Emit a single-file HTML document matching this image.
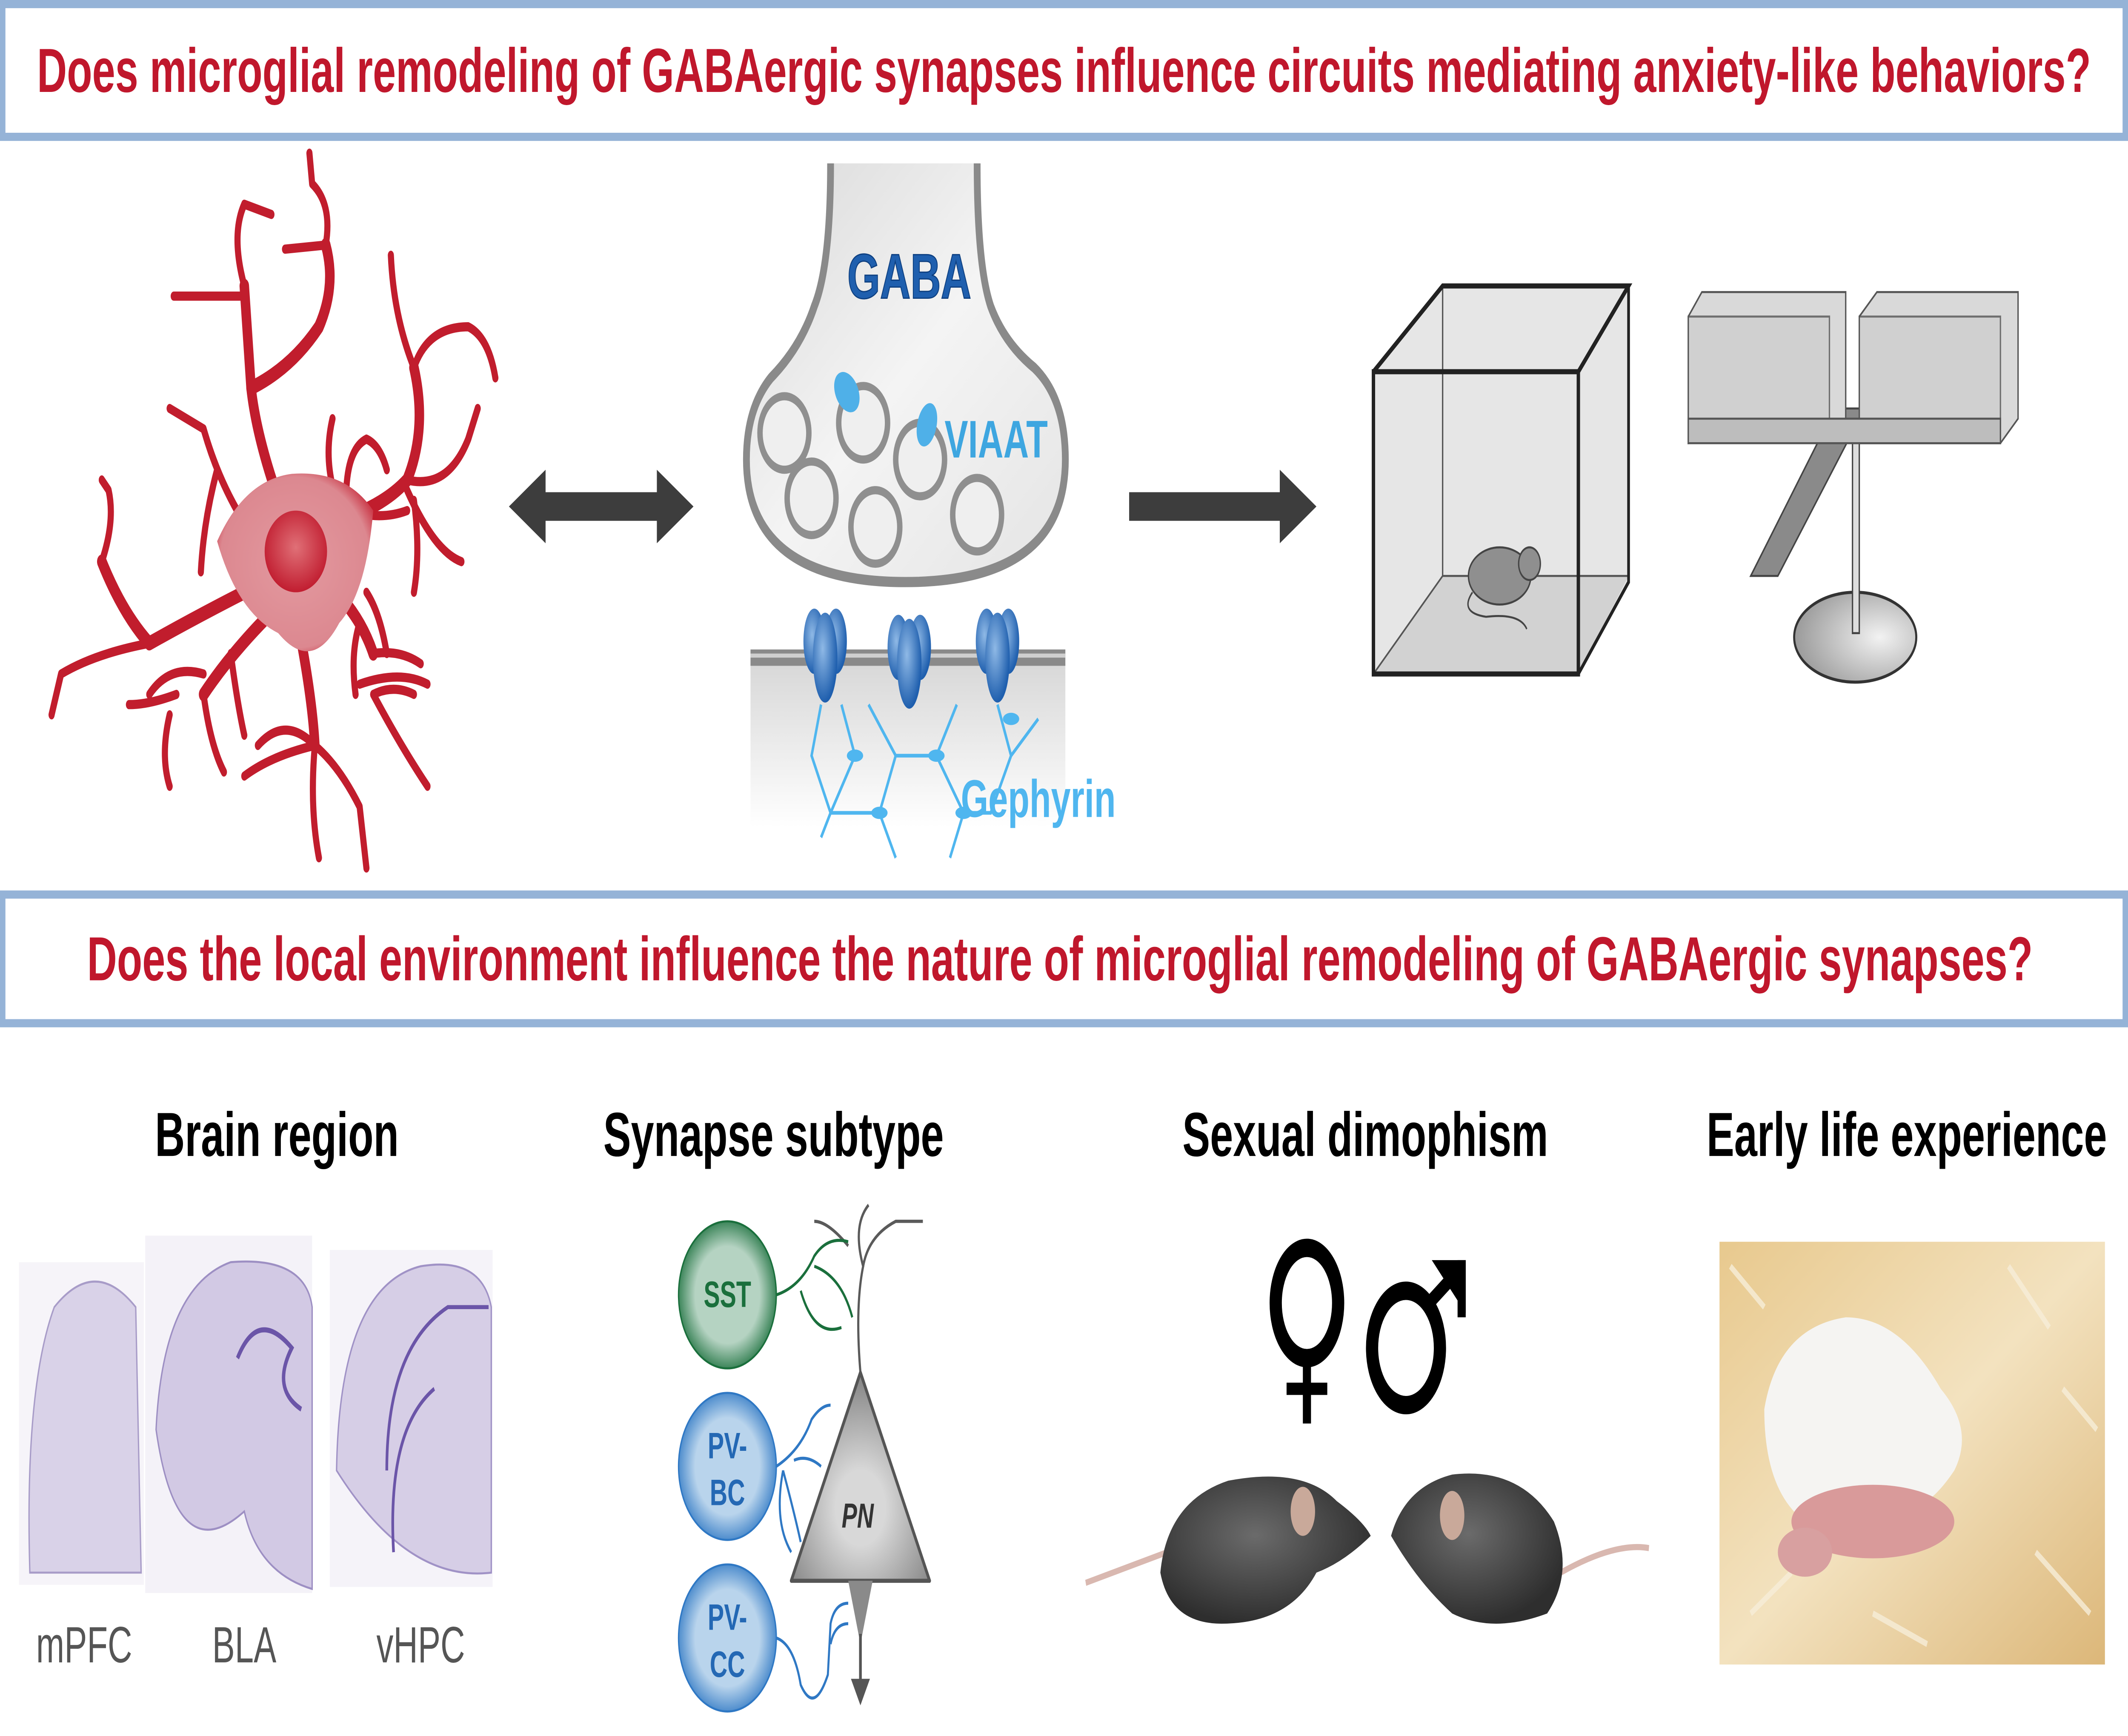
<!DOCTYPE html>
<html><head><meta charset="utf-8">
<style>
html,body{margin:0;padding:0;background:#fff;width:100%;height:100%;overflow:hidden;}
svg{display:block;position:absolute;left:0;top:0;width:100vw;height:100vh;}
text{font-family:"Liberation Sans",sans-serif;}
</style></head>
<body>
<svg viewBox="0 0 1568 850" preserveAspectRatio="none" xmlns="http://www.w3.org/2000/svg">
<defs>
<radialGradient id="cellg" cx="50%" cy="50%" r="60%"><stop offset="0" stop-color="#e39aa0"/><stop offset="0.8" stop-color="#dc8890"/><stop offset="1" stop-color="#c62637"/></radialGradient>
<radialGradient id="nucg" cx="50%" cy="45%" r="55%"><stop offset="0" stop-color="#e07077"/><stop offset="1" stop-color="#c11d30"/></radialGradient>
<linearGradient id="bout" x1="0" y1="0" x2="1" y2="1"><stop offset="0" stop-color="#d9d9d9"/><stop offset="0.5" stop-color="#f4f4f4"/><stop offset="1" stop-color="#e4e4e4"/></linearGradient>
<radialGradient id="sstg" r="55%"><stop offset="0.6" stop-color="#b5d3c2"/><stop offset="1" stop-color="#1a6f3c"/></radialGradient>
<radialGradient id="pvg" r="55%"><stop offset="0.6" stop-color="#b9d4ec"/><stop offset="1" stop-color="#2f78c4"/></radialGradient>
<radialGradient id="png" cx="50%" cy="65%" r="60%"><stop offset="0.3" stop-color="#d8d8d8"/><stop offset="1" stop-color="#8a8a8a"/></radialGradient>
<radialGradient id="discg" cx="70%" cy="50%" r="70%"><stop offset="0" stop-color="#f2f2f2"/><stop offset="1" stop-color="#9a9a9a"/></radialGradient>
<linearGradient id="postg" x1="0" y1="0" x2="0" y2="1"><stop offset="0" stop-color="#d8d8d8"/><stop offset="1" stop-color="#ffffff"/></linearGradient>
<radialGradient id="rec" cx="40%" cy="40%" r="60%"><stop offset="0" stop-color="#8fb9e6"/><stop offset="1" stop-color="#1f5fae"/></radialGradient>
<linearGradient id="wood" x1="0" y1="0" x2="1" y2="1"><stop offset="0" stop-color="#e8c98e"/><stop offset="0.5" stop-color="#f3e2bf"/><stop offset="1" stop-color="#dcb779"/></linearGradient>
<radialGradient id="mouseg" cx="45%" cy="40%" r="60%"><stop offset="0" stop-color="#6b6b6b"/><stop offset="1" stop-color="#2e2e2e"/></radialGradient>
</defs>

<rect x="2" y="2" width="1564" height="65" fill="#fff" stroke="#95b3d7" stroke-width="4"/>
<text x="784" y="45" text-anchor="middle" font-size="30.5" font-weight="bold" fill="#c0172c">Does microglial remodeling of GABAergic synapses influence circuits mediating anxiety-like behaviors?</text>

<!-- microglia -->
<g stroke="#c11d2d" stroke-linecap="round" stroke-linejoin="round" fill="none">
<g stroke-width="7">
<path d="M215 262 Q190 220 185 190 Q182 160 180 140"/>
<path d="M185 190 Q215 180 235 160 Q248 140 240 120"/>
<path d="M235 258 Q280 250 300 235 Q315 210 305 180"/>
<path d="M195 285 Q150 300 110 315 Q90 300 75 275"/>
<path d="M218 300 Q230 340 232 365"/>
<path d="M240 285 Q265 300 275 320"/>
<path d="M200 300 Q170 320 150 340"/>
</g>
<g stroke-width="4.5">
<path d="M180 140 Q170 115 180 100 L200 105"/>
<path d="M180 145 L128 145"/>
<path d="M240 120 Q245 100 230 90 L228 75"/>
<path d="M240 120 L210 122"/>
<path d="M305 180 Q315 160 345 160 Q360 165 365 185"/>
<path d="M305 180 Q290 155 288 125"/>
<path d="M300 235 Q330 240 345 215 L352 200"/>
<path d="M248 245 Q238 225 245 205"/>
<path d="M255 245 Q255 220 270 215 Q280 218 285 230"/>
<path d="M258 250 Q280 255 300 250"/>
<path d="M300 240 Q320 270 340 275"/>
<path d="M305 245 Q310 270 305 290"/>
<path d="M270 290 Q280 300 285 320"/>
<path d="M275 320 Q295 318 310 325"/>
<path d="M265 305 Q258 320 262 340"/>
<path d="M265 335 Q295 328 315 335"/>
<path d="M232 365 Q250 375 265 395 L270 425"/>
<path d="M232 365 Q210 350 190 365"/>
<path d="M232 365 Q200 370 180 380"/>
<path d="M232 365 Q228 395 235 420"/>
<path d="M275 340 Q295 365 315 385"/>
<path d="M275 340 Q290 335 305 340"/>
<path d="M110 315 Q70 320 45 330 L38 350"/>
<path d="M75 275 Q85 255 80 240 L75 235"/>
<path d="M150 330 Q125 325 110 340"/>
<path d="M150 340 Q155 365 165 378"/>
<path d="M130 340 Q110 345 95 345"/>
<path d="M125 350 Q118 370 125 385"/>
<path d="M170 320 Q175 345 180 360"/>
<path d="M195 270 Q165 245 150 210 L125 200"/>
<path d="M160 230 Q150 255 148 280"/>
</g>
</g>
<path d="M160 265 Q180 235 215 232 Q255 230 275 250 Q270 290 250 305 Q230 330 205 310 Q175 300 160 265 Z" fill="url(#cellg)"/>
<ellipse cx="218" cy="270" rx="23" ry="20" fill="url(#nucg)"/>

<path d="M375 248 L402 230 L402 241 L484 241 L484 230 L511 248 L484 266 L484 255 L402 255 L402 266 Z" fill="#3d3d3d"/>

<!-- synapse bouton -->
<path d="M612 80 Q612 130 600 150 Q590 170 568 185 Q550 200 550 225 Q550 285 667 285 Q785 285 785 225 Q785 195 762 180 Q740 168 730 150 Q720 130 720 80" fill="url(#bout)" stroke="#8a8a8a" stroke-width="5"/>
<text x="670" y="146" text-anchor="middle" font-size="31" font-weight="bold" fill="#1f5fae" stroke="#0d3f80" stroke-width="0.6">GABA</text>
<g fill="#efefef" stroke="#8f8f8f" stroke-width="4">
<circle cx="578" cy="212" r="18"/><circle cx="636" cy="207" r="18"/><circle cx="678" cy="225" r="18"/>
<circle cx="598" cy="244" r="18"/><circle cx="645" cy="258" r="18"/><circle cx="720" cy="252" r="18"/>
</g>
<ellipse cx="624" cy="192" rx="8" ry="11" fill="#4fb0e8" transform="rotate(-40 624 192)"/>
<ellipse cx="683" cy="208" rx="7" ry="11" fill="#4fb0e8" transform="rotate(20 683 208)"/>
<text x="696" y="224" font-size="26" font-weight="bold" fill="#3ea6e0">VIAAT</text>

<rect x="553" y="325" width="232" height="80" fill="url(#postg)"/>
<rect x="553" y="318" width="232" height="8" fill="#8a8a8a"/>
<rect x="553" y="320" width="232" height="2" fill="#cfcfcf"/>
<g stroke="#4fb6ef" stroke-width="1.8" fill="none">
<path d="M605 345 L598 370 L612 398 L605 410 M612 398 L648 398 L660 370 L640 345 M660 370 L690 370 L705 345 M690 370 L710 398 L730 398 L745 370 L735 345 M710 398 L700 420 M612 398 L630 370 L620 345 M648 398 L660 420 M745 370 L765 352"/>
</g>
<g fill="#4fb6ef">
<ellipse cx="630" cy="370" rx="6" ry="3"/><ellipse cx="690" cy="370" rx="6" ry="3"/><ellipse cx="648" cy="398" rx="6" ry="3"/><ellipse cx="710" cy="398" rx="6" ry="3"/><ellipse cx="745" cy="352" rx="6" ry="3"/>
</g>
<g fill="url(#rec)">
<g transform="translate(608 322)"><ellipse cx="-8" cy="-8" rx="8" ry="16"/><ellipse cx="8" cy="-8" rx="8" ry="16"/><ellipse cx="0" cy="0" rx="9" ry="22"/></g>
<g transform="translate(670 325)"><ellipse cx="-8" cy="-8" rx="8" ry="16"/><ellipse cx="8" cy="-8" rx="8" ry="16"/><ellipse cx="0" cy="0" rx="9" ry="22"/></g>
<g transform="translate(735 322)"><ellipse cx="-8" cy="-8" rx="8" ry="16"/><ellipse cx="8" cy="-8" rx="8" ry="16"/><ellipse cx="0" cy="0" rx="9" ry="22"/></g>
</g>
<text x="708" y="400" font-size="26" font-weight="bold" fill="#4fb6ef">Gephyrin</text>

<path d="M832 241 L943 241 L943 230 L970 248 L943 266 L943 255 L832 255 Z" fill="#3d3d3d"/>

<!-- open field -->
<g stroke="#222" fill="none">
<polygon points="1012,182 1063,140 1200,140 1200,285 1163,330 1012,330" fill="#e6e6e6" stroke="none"/>
<polygon points="1012,330 1063,282 1200,282 1163,330" fill="#d2d2d2" stroke="none"/>
<line x1="1063" y1="140" x2="1063" y2="282" stroke="#555" stroke-width="1"/>
<line x1="1063" y1="282" x2="1200" y2="282" stroke="#555" stroke-width="1"/>
<line x1="1063" y1="282" x2="1012" y2="330" stroke="#555" stroke-width="1"/>
<polyline points="1012,182 1063,140 1200,140 1163,182" stroke-width="2.5"/>
<rect x="1012" y="182" width="151" height="148" stroke-width="2.5"/>
<polyline points="1200,140 1200,285 1163,330" stroke-width="2"/>
</g>
<ellipse cx="1105" cy="282" rx="23" ry="14" fill="#8f8f8f" stroke="#444" stroke-width="1"/>
<circle cx="1127" cy="276" r="8" fill="#8f8f8f" stroke="#444" stroke-width="1"/>
<path d="M1085 290 Q1075 300 1095 302 Q1120 300 1125 308" stroke="#444" fill="none" stroke-width="1"/>

<!-- EPM -->
<ellipse cx="1367" cy="312" rx="45" ry="22" fill="url(#discg)" stroke="#333" stroke-width="1.5"/>
<rect x="1365" y="210" width="5" height="100" fill="#ddd" stroke="#444" stroke-width="1"/>
<polygon points="1352,200 1374,200 1310,282 1290,282" fill="#8a8a8a" stroke="#444" stroke-width="1"/>
<polygon points="1244,155 1254,143 1360,143 1360,205 1244,217" fill="#d9d9d9" stroke="#555" stroke-width="1"/>
<polygon points="1244,155 1348,155 1348,205 1244,217" fill="#cfcfcf" stroke="#555" stroke-width="1" opacity="0.8"/>
<polygon points="1370,155 1383,143 1487,143 1487,205 1474,217 1370,217" fill="#d9d9d9" stroke="#555" stroke-width="1"/>
<rect x="1370" y="155" width="104" height="62" fill="#cfcfcf" stroke="#555" stroke-width="1" opacity="0.8"/>
<polygon points="1244,205 1474,205 1474,217 1244,217" fill="#bdbdbd" stroke="#555" stroke-width="1"/>

<rect x="2" y="438" width="1564" height="63" fill="#fff" stroke="#95b3d7" stroke-width="4"/>
<text x="781" y="480" text-anchor="middle" font-size="30.5" font-weight="bold" fill="#c0172c">Does the local environment influence the nature of microglial remodeling of GABAergic synapses?</text>

<g font-size="30.5" font-weight="bold" fill="#000" text-anchor="middle">
<text x="204" y="566">Brain region</text>
<text x="570" y="566">Synapse subtype</text>
<text x="1006" y="566">Sexual dimophism</text>
<text x="1405" y="566">Early life experience</text>
</g>

<rect x="14" y="618" width="92" height="158" fill="#f6f4f9"/>
<path d="M22 770 Q18 680 40 640 Q70 615 100 640 L104 770 Z" fill="#d9d2e8" stroke="#a89cc8" stroke-width="1"/>
<rect x="107" y="605" width="123" height="175" fill="#f4f2f8"/>
<path d="M115 700 Q120 630 170 618 Q225 615 230 640 L230 778 Q190 770 180 740 Q130 770 115 700 Z" fill="#d2c9e4" stroke="#9d8fc3" stroke-width="1"/>
<path d="M175 665 Q190 640 215 660 Q200 680 222 690" stroke="#6b55a8" stroke-width="2.5" fill="none"/>
<rect x="243" y="612" width="120" height="165" fill="#f5f3f9"/>
<path d="M248 720 Q250 630 310 620 Q355 615 362 640 L362 770 Q300 775 248 720 Z" fill="#d6cee6" stroke="#a092c6" stroke-width="1"/>
<path d="M285 720 Q285 660 330 640 L360 640 M290 760 Q285 700 320 680" stroke="#6b55a8" stroke-width="2" fill="none"/>
<g font-size="25" fill="#555" text-anchor="middle">
<text x="62" y="814">mPFC</text><text x="180" y="814">BLA</text><text x="310" y="814">vHPC</text>
</g>

<g fill="none" stroke="#5a5a5a" stroke-width="1.6">
<path d="M634 672 Q630 640 636 620 Q628 600 640 590"/>
<path d="M636 620 Q640 605 660 598 L680 598"/>
<path d="M625 610 Q610 598 600 598"/>
</g>
<g fill="none" stroke="#1a6f3c" stroke-width="1.5">
<path d="M572 634 Q590 630 600 615 Q610 605 625 608"/>
<path d="M590 632 Q600 655 620 650"/>
<path d="M600 620 Q620 625 628 645"/>
</g>
<g fill="none" stroke="#2f78c4" stroke-width="1.5">
<path d="M572 718 Q590 710 598 695 Q605 688 612 688"/>
<path d="M585 715 Q595 712 605 718"/>
<path d="M577 720 Q585 740 590 755"/>
<path d="M577 720 Q570 745 583 760"/>
<path d="M572 802 Q585 805 590 825 Q600 840 610 820 L612 795 Q615 785 625 785 M612 805 Q615 795 625 795"/>
</g>
<polygon points="634,672 685,774 583,774" fill="url(#png)" stroke="#555" stroke-width="2" stroke-linejoin="round"/>
<polygon points="625,774 643,774 634,805" fill="#8a8a8a"/>
<line x1="634" y1="800" x2="634" y2="828" stroke="#555" stroke-width="2"/>
<polygon points="627,822 641,822 634,835" fill="#555"/>
<text x="632" y="748" text-anchor="middle" font-size="17" font-weight="bold" font-style="italic" fill="#333">PN</text>
<circle cx="536" cy="634" r="36" fill="url(#sstg)" stroke="#1a6f3c" stroke-width="1"/>
<circle cx="536" cy="718" r="36" fill="url(#pvg)" stroke="#2f78c4" stroke-width="1"/>
<circle cx="536" cy="802" r="36" fill="url(#pvg)" stroke="#2f78c4" stroke-width="1"/>
<g font-size="18" font-weight="bold" text-anchor="middle">
<text x="536" y="640" fill="#1a6f3c">SST</text>
<text x="536" y="714" fill="#2468b4">PV-</text><text x="536" y="737" fill="#2468b4">BC</text>
<text x="536" y="798" fill="#2468b4">PV-</text><text x="536" y="821" fill="#2468b4">CC</text>
</g>

<ellipse cx="963" cy="638" rx="23" ry="27" fill="none" stroke="#000" stroke-width="9"/>
<line x1="963" y1="665" x2="963" y2="697" stroke="#000" stroke-width="6"/>
<line x1="948" y1="680" x2="978" y2="680" stroke="#000" stroke-width="6"/>
<ellipse cx="1036" cy="660" rx="25" ry="28" fill="none" stroke="#000" stroke-width="9"/>
<line x1="1053" y1="638" x2="1075" y2="622" stroke="#000" stroke-width="7"/>
<polygon points="1055,617 1080,617 1080,643" fill="#000"/>
<rect x="1074" y="617" width="6" height="28" fill="#000"/>

<path d="M800 775 Q840 765 860 760" stroke="#d9b8b0" stroke-width="3" fill="none"/>
<path d="M1150 770 Q1190 755 1215 758" stroke="#d9b8b0" stroke-width="3" fill="none"/>
<path d="M855 770 Q860 735 905 725 Q960 718 985 735 Q1005 745 1010 752 Q990 765 970 770 Q950 795 900 795 Q862 795 855 770 Z" fill="url(#mouseg)"/>
<ellipse cx="960" cy="740" rx="9" ry="12" fill="#c9a99a"/>
<path d="M1025 752 Q1035 728 1070 722 Q1120 718 1145 745 Q1160 770 1140 790 Q1100 800 1070 790 Q1045 775 1025 752 Z" fill="url(#mouseg)"/>
<ellipse cx="1070" cy="742" rx="9" ry="12" fill="#c9a99a"/>

<rect x="1267" y="608" width="284" height="207" fill="url(#wood)"/>
<g stroke="#f7eed9" stroke-width="3" opacity="0.8">
<line x1="1275" y1="620" x2="1300" y2="640"/><line x1="1480" y1="620" x2="1510" y2="650"/><line x1="1290" y1="790" x2="1320" y2="770"/>
<line x1="1500" y1="760" x2="1540" y2="790"/><line x1="1380" y1="790" x2="1420" y2="805"/><line x1="1520" y1="680" x2="1545" y2="700"/>
</g>
<path d="M1300 690 Q1310 650 1360 645 Q1400 645 1430 680 Q1455 700 1440 720 Q1420 740 1400 740 Q1370 760 1330 745 Q1300 730 1300 690 Z" fill="#f5f4f2"/>
<ellipse cx="1380" cy="745" rx="60" ry="18" fill="#d99a9a"/>
<ellipse cx="1330" cy="760" rx="20" ry="12" fill="#d8a0a0"/>
</svg>
</body></html>
